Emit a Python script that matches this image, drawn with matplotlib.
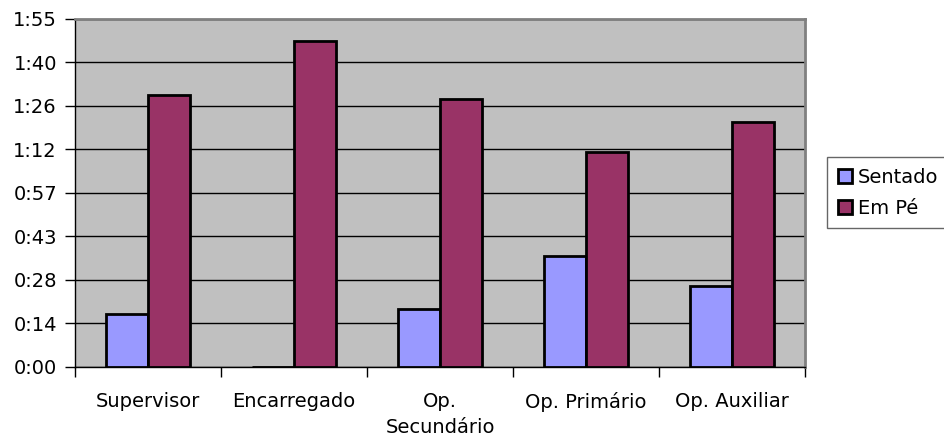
import numpy as np
import matplotlib.pyplot as plt
from matplotlib.ticker import FuncFormatter, FixedLocator

plt.rcParams['font.family'] = ['DejaVu Sans']

# tempo medio por posto (minutos)
cargos = ["Supervisor", "Encarregado", "Op.\nSecundário", "Op. Primário", "Op. Auxiliar"]
sentado = [17.4, 0.0, 19.1, 36.6, 26.8]
em_pe = [89.9, 107.8, 88.5, 71.0, 80.9]

# escala do eixo em passos de 0,01 dia (14,4 min)
passo = 14.4
n_passos = 8

def hmm(v, pos):
    m = int(np.floor(v + 1e-6))
    return "%d:%02d" % (m // 60, m % 60)

fig = plt.figure(figsize=(9.45, 4.43), dpi=100)
ax = fig.add_axes([0.0794, 0.1722, 0.7725, 0.7856])
ax.set_facecolor('#C0C0C0')

x = np.arange(len(cargos))
w = 1 / 3.5
ax.bar(x - w / 2, sentado, w, color='#9999FF', edgecolor='black', linewidth=2, label='Sentado', zorder=3)
ax.bar(x + w / 2, em_pe, w, color='#993366', edgecolor='black', linewidth=2, label='Em Pé', zorder=3)

ax.set_xlim(-0.5, len(cargos) - 0.5)
ax.set_ylim(0, passo * n_passos)
ax.yaxis.set_major_locator(FixedLocator([passo * i for i in range(n_passos + 1)]))
ax.yaxis.set_major_formatter(FuncFormatter(hmm))
ax.grid(axis='y', color='black', linewidth=1, zorder=1)
ax.set_axisbelow(True)

ax.set_xticks(x)
ax.set_xticklabels(cargos, linespacing=1.5, va='top')
ax.set_xticks(np.arange(len(cargos) + 1) - 0.5, minor=True)
ax.tick_params(axis='x', which='major', length=0, pad=18, labelsize=14)
ax.tick_params(axis='x', which='minor', length=7, width=1, direction='out')
ax.tick_params(axis='y', length=7, width=1, labelsize=14, pad=6)

for s in ['top', 'right']:
    ax.spines[s].set_color('#808080')
    ax.spines[s].set_linewidth(2)
for s in ['left', 'bottom']:
    ax.spines[s].set_color('black')
    ax.spines[s].set_linewidth(1)

leg = fig.legend(loc='upper left', bbox_to_anchor=(0.875, 0.645), fontsize=14,
                 frameon=True, fancybox=False, edgecolor='#404040', handlelength=0.75,
                 handleheight=0.75, handletextpad=0.3, borderpad=0.55, labelspacing=0.6,
                 borderaxespad=0)
leg.get_frame().set_linewidth(1)

fig.savefig('out.png', dpi=100)
